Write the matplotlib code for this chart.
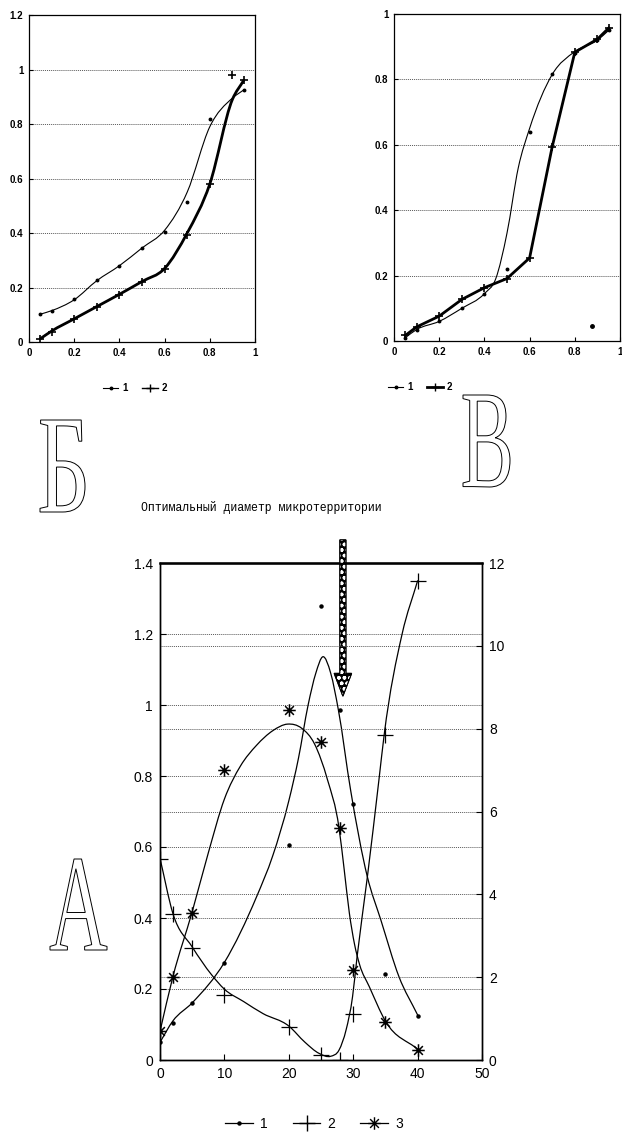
import matplotlib
matplotlib.use("Agg")
import matplotlib.pyplot as plt
from matplotlib.path import Path
from matplotlib.patches import PathPatch, FancyArrow
from matplotlib.textpath import TextPath
from matplotlib.font_manager import FontProperties
from matplotlib.transforms import Affine2D
from matplotlib.lines import Line2D
from matplotlib.ticker import FuncFormatter

W, H = 622, 1135

# --- panel Б (top left) ---
b_x = [0.05, 0.1, 0.2, 0.3, 0.4, 0.5, 0.6, 0.7, 0.8, 0.95]
b1_pts = [0.102, 0.115, 0.157, 0.228, 0.28, 0.345, 0.405, 0.513, 0.817, 0.925]
b_fit_x = [0.05, 0.1, 0.2, 0.3, 0.4, 0.5, 0.6, 0.7, 0.8, 0.9, 0.95]
b1_fit = [0.102, 0.115, 0.155, 0.225, 0.28, 0.345, 0.41, 0.55, 0.79, 0.895, 0.925]
b2_x = [0.05, 0.1, 0.2, 0.3, 0.4, 0.5, 0.6, 0.7, 0.8, 0.9, 0.95]
b2_pts = [0.01, 0.037, 0.084, 0.13, 0.172, 0.222, 0.267, 0.394, 0.578, 0.978, 0.96]
b2_fit = [0.012, 0.04, 0.085, 0.13, 0.175, 0.222, 0.27, 0.40, 0.58, 0.89, 0.96]

# --- panel В (top right) ---
v1_x = [0.05, 0.1, 0.2, 0.3, 0.4, 0.5, 0.6, 0.7, 0.8, 0.9, 0.95]
v1_pts = [0.01, 0.035, 0.06, 0.1, 0.145, 0.219, 0.64, 0.817, 0.88, 0.92, 0.95]
v1_out_x = [0.876]
v1_out_y = [0.046]
v1_fit_x = [0.05, 0.1, 0.2, 0.3, 0.4, 0.45, 0.5, 0.55, 0.6, 0.7, 0.8, 0.9, 0.95]
v1_fit = [0.01, 0.035, 0.06, 0.1, 0.145, 0.19, 0.33, 0.53, 0.65, 0.815, 0.885, 0.92, 0.95]
v2_x = [0.05, 0.1, 0.2, 0.3, 0.4, 0.5, 0.6, 0.7, 0.8, 0.9, 0.95]
v2_y = [0.017, 0.043, 0.076, 0.127, 0.163, 0.191, 0.254, 0.594, 0.883, 0.923, 0.957]

# --- panel А (bottom) ---
a_x = [0, 2, 5, 10, 20, 25, 28, 30, 35, 40]
a1_pts = [0.05, 0.105, 0.16, 0.273, 0.607, 1.279, 0.985, 0.72, 0.243, 0.125]       # left axis
a2_pts = [4.85, 3.52, 2.7, 1.57, 0.79, 0.12, 0.0, 1.1, 7.84, 11.57]              # right axis
a3_pts = [0.69, 2.01, 3.56, 7.01, 8.44, 7.67, 5.6, 2.18, 0.91, 0.24]             # right axis
a1_fit_x = [0, 2, 5, 10, 15, 17.5, 20, 21.5, 23, 24.2, 25.3, 26.5, 27.7, 29.6, 32.2, 34.3, 37.1, 40]
a1_fit = [0.05, 0.11, 0.161, 0.275, 0.46, 0.575, 0.73, 0.85, 1.0, 1.09, 1.136, 1.09, 0.986, 0.76, 0.516,
          0.394, 0.235, 0.127]
a2_fit_x = [0, 2, 5, 8, 10, 13, 16, 20, 22.5, 24.7, 26.5, 27.8, 28.9, 29.9, 30.6, 32.2, 34, 34.8, 37.6, 40]
a2_fit = [4.87, 3.54, 2.73, 2.06, 1.71, 1.41, 1.12, 0.82, 0.43, 0.16, 0.09, 0.24, 0.73, 1.53, 2.49, 4.42,
          6.77, 7.84, 10.29, 11.57]
a3_fit_x = [0, 2, 5, 7.5, 10, 12.5, 15, 17.5, 19.8, 22, 24, 26, 27.8, 28.6, 29.4, 30.2, 31, 32.5, 35, 40]
a3_fit = [0.69, 2.01, 3.58, 5.0, 6.3, 7.1, 7.6, 7.95, 8.11, 8.01, 7.63, 6.77, 5.6, 4.6, 3.55, 2.8, 2.3,
          1.77, 0.94, 0.26]
optimum_x = 28.4

title = "Оптимальный диаметр микротерритории"

GRID = dict(color="0.35", lw=0.7, ls=(0, (1, 1)))
asterisk = Path([(-1, 0), (1, 0), (0, -1), (0, 1), (-.7, -.7), (.7, .7), (-.7, .7), (.7, -.7)],
                [Path.MOVETO, Path.LINETO] * 4)


def smooth(xs, ys):
    # piecewise cubic hermite through the knots (x is increasing), as bezier segments
    n = len(xs)
    h = [xs[i + 1] - xs[i] for i in range(n - 1)]
    d = [(ys[i + 1] - ys[i]) / h[i] for i in range(n - 1)]
    m = [d[0]]
    for i in range(1, n - 1):
        m.append((d[i - 1] * h[i] + d[i] * h[i - 1]) / (h[i - 1] + h[i]))
    m.append(d[-1])
    verts, codes = [(xs[0], ys[0])], [Path.MOVETO]
    for i in range(n - 1):
        verts.append((xs[i] + h[i] / 3, ys[i] + m[i] * h[i] / 3))
        verts.append((xs[i + 1] - h[i] / 3, ys[i + 1] - m[i + 1] * h[i] / 3))
        verts.append((xs[i + 1], ys[i + 1]))
        codes += [Path.CURVE4] * 3
    return Path(verts, codes)


def add_curve(ax, xs, ys, lw):
    ax.add_patch(PathPatch(smooth(xs, ys), fill=False, edgecolor="black", lw=lw,
                           joinstyle="round", capstyle="round"))


def box(x0, y0, x1, y1):
    return [x0 / W, 1 - y1 / H, (x1 - x0) / W, (y1 - y0) / H]


def hollow_letter(fig, ch, x0, y0, x1, y1):
    tp = TextPath((0, 0), ch, size=100, prop=FontProperties(family="Liberation Serif"))
    bb = tp.get_extents()
    tr = (Affine2D().translate(-bb.x0, -bb.y0)
          .scale((x1 - x0) / W / bb.width, (y1 - y0) / H / bb.height)
          .translate(x0 / W, 1 - y1 / H))
    fig.add_artist(PathPatch(tr.transform_path(tp), facecolor="white", edgecolor="black",
                             lw=0.7, transform=fig.transFigure))


fmt = FuncFormatter(lambda v, p: f"{v:g}")
small = dict(family="Liberation Sans", size=7, weight="bold")

fig = plt.figure(figsize=(W / 100, H / 100), dpi=100)

# panel Б
ax = fig.add_axes(box(29, 15, 255, 342))
ax.set_xlim(0, 1)
ax.set_ylim(0, 1.2)
ax.set_xticks([0, 0.2, 0.4, 0.6, 0.8, 1])
ax.set_yticks([0, 0.2, 0.4, 0.6, 0.8, 1, 1.2])
for yv in [0.2, 0.4, 0.6, 0.8, 1.0]:
    ax.axhline(yv, **GRID, zorder=0)
add_curve(ax, b_fit_x, b1_fit, 0.8)
add_curve(ax, b2_x, b2_fit, 2.0)
ax.plot(b_x, b1_pts, ls="none", marker="o", ms=1.8, color="black")
ax.plot(b2_x, b2_pts, ls="none", marker="+", ms=6, mew=1.2, color="black")
ax.legend(handles=[Line2D([], [], color="black", lw=0.8, marker="o", ms=1.8, label="1"),
                   Line2D([], [], color="black", lw=1.0, marker="+", ms=6, label="2")],
          loc="center", bbox_to_anchor=(135 / W, 1 - 388 / H), bbox_transform=fig.transFigure,
          ncol=2, frameon=False, prop=small, handlelength=1.6, columnspacing=1.5, handletextpad=0.4)

# panel В
ax = fig.add_axes(box(394, 14, 620, 341))
ax.set_xlim(0, 1)
ax.set_ylim(0, 1)
ax.set_xticks([0, 0.2, 0.4, 0.6, 0.8, 1])
ax.set_yticks([0, 0.2, 0.4, 0.6, 0.8, 1])
for yv in [0.2, 0.4, 0.6, 0.8]:
    ax.axhline(yv, **GRID, zorder=0)
add_curve(ax, v1_fit_x, v1_fit, 0.8)
ax.plot(v1_x, v1_pts, ls="none", marker="o", ms=1.8, color="black")
ax.plot(v1_out_x, v1_out_y, ls="none", marker="o", ms=2.5, color="black")
ax.plot(v2_x, v2_y, color="black", lw=2.0, marker="+", ms=6, mew=1.2)
ax.legend(handles=[Line2D([], [], color="black", lw=0.8, marker="o", ms=1.8, label="1"),
                   Line2D([], [], color="black", lw=2.0, marker="+", ms=6, label="2")],
          loc="center", bbox_to_anchor=(420 / W, 1 - 387 / H), bbox_transform=fig.transFigure,
          ncol=2, frameon=False, prop=small, handlelength=1.6, columnspacing=1.5, handletextpad=0.4)

for a in fig.axes:
    a.xaxis.set_major_formatter(fmt)
    a.yaxis.set_major_formatter(fmt)
    a.tick_params(direction="in", length=3, width=0.8, labelsize=7, pad=4)
    for lab in a.get_xticklabels() + a.get_yticklabels():
        lab.set_fontweight("bold")
        lab.set_family("Liberation Sans")
    for s in a.spines.values():
        s.set_linewidth(0.9)

# panel А
ax = fig.add_axes(box(160, 563, 482, 1060))
ax2 = ax.twinx()
ax.set_xlim(0, 50)
ax.set_ylim(0, 1.4)
ax2.set_ylim(0, 12)
ax.set_xticks(range(0, 51, 10))
ax.set_yticks([0, 0.2, 0.4, 0.6, 0.8, 1, 1.2, 1.4])
ax2.set_yticks(range(0, 13, 2))
for yv in [0.2, 0.4, 0.6, 0.8, 1.0, 1.2]:
    ax.axhline(yv, **GRID, zorder=0)
for yv in [2, 4, 6, 8, 10]:
    ax2.axhline(yv, **GRID, zorder=0)
add_curve(ax, a1_fit_x, a1_fit, 0.9)
add_curve(ax2, a2_fit_x, a2_fit, 0.9)
add_curve(ax2, a3_fit_x, a3_fit, 0.9)
ax.plot(a_x, a1_pts, ls="none", marker="o", ms=2.2, color="black")
ax2.plot(a_x, a2_pts, ls="none", marker="+", ms=11, mew=0.9, color="black")
ax2.plot(a_x, a3_pts, ls="none", marker=asterisk, ms=9, mew=1.1, color="black")
for a in (ax, ax2):
    a.xaxis.set_major_formatter(fmt)
    a.yaxis.set_major_formatter(fmt)
    a.tick_params(direction="in", length=4, width=0.8, labelsize=10, pad=5)
    for lab in a.get_xticklabels() + a.get_yticklabels():
        lab.set_family("Liberation Sans")
    for s in a.spines.values():
        s.set_linewidth(1.0)
ax.spines["top"].set_linewidth(1.8)

# arrow marking the optimal diameter
top_y, tip_y = 1.465, 1.025
arr = dict(width=0.93, head_width=2.7, head_length=0.064, length_includes_head=True, clip_on=False)
ax.add_patch(FancyArrow(optimum_x, top_y, 0, tip_y - top_y, facecolor="black", edgecolor="black",
                        lw=0.8, zorder=5, **arr))
ax.add_patch(FancyArrow(optimum_x, top_y, 0, tip_y - top_y, facecolor="none", edgecolor="white",
                        hatch="ooo", lw=0, zorder=6, **arr))
ax.add_patch(FancyArrow(optimum_x, top_y, 0, tip_y - top_y, facecolor="none", edgecolor="black",
                        lw=0.8, zorder=7, **arr))

ax.legend(handles=[Line2D([], [], color="black", lw=0.9, marker="o", ms=2.2, label="1"),
                   Line2D([], [], color="black", lw=0.9, marker="+", ms=11, label="2"),
                   Line2D([], [], color="black", lw=0.9, marker=asterisk, ms=9, label="3")],
          loc="center", bbox_to_anchor=(314 / W, 1 - 1124 / H), bbox_transform=fig.transFigure,
          ncol=3, frameon=False, prop=dict(family="Liberation Sans", size=10),
          handlelength=2.0, columnspacing=1.8, handletextpad=0.5)

fig.text(261 / W, 1 - 508 / H, title, ha="center", va="center", family="Liberation Mono", fontsize=8.3)

hollow_letter(fig, "Б", 40, 420, 85, 512)
hollow_letter(fig, "В", 463, 395, 510, 487)
hollow_letter(fig, "А", 50, 859, 107, 950)

fig.savefig("out.png", dpi=100)
